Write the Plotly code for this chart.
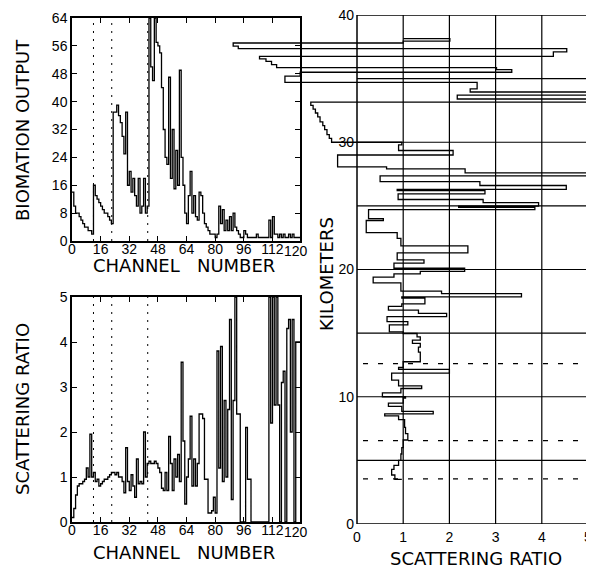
import plotly.graph_objects as go

# The page shows the figure with an 8 px body margin, so it starts at (8, 8)
OFF = 8
W, H = 594 - OFF, 568 - OFF
FONT = "DejaVu Sans"
TICKFONT = "Liberation Sans"

# ---------------- data ----------------
channels = list(range(128))
channel_ticks = [0, 16, 32, 48, 64, 80, 96, 112]

biomation_output = [
    14, 10, 8, 8, 7, 6, 5, 4, 4, 3, 3, 2,
    16, 13, 12, 11, 10, 9, 8, 8, 7, 6, 5,
    37, 37, 39, 36, 34, 30, 25, 37, 16, 20, 14, 18, 13, 10, 18, 8, 10, 18, 8, 10,
    64, 50, 46, 64, 57, 56, 54, 44, 32, 24, 22, 47, 18, 32, 15, 26, 16, 49, 24, 16,
    8, 5, 13, 20, 8, 13, 7, 6, 14, 13, 8, 5, 4, 3, 2, 2, 2, 1, 2,
    10, 5, 9, 3, 6, 3, 7, 3, 8, 4, 3, 2, 1, 1, 3, 2,
    1, 1, 1, 1, 1, 2, 1, 1, 1, 1, 1, 1,
    6, 1, 7, 2, 2, 1, 2, 1, 2, 1, 1, 2, 1, 2, 1, 1, 1, 1,
]

scattering_by_channel = [
    0.1, 0.3, 0.6, 0.8, 0.85, 0.85, 0.9, 0.95, 1.2, 1.0,
    1.95, 1.0, 1.1, 0.9, 0.95, 0.8, 0.85, 0.9, 0.95, 0.95,
    1.0, 1.05, 1.1, 1.1, 1.05, 1.1, 1.0, 1.0, 0.9, 0.65,
    1.65, 0.9, 0.7, 1.05, 0.8, 0.55, 1.4, 0.85, 0.9, 0.85,
    2.0, 1.0, 1.3, 1.35, 1.3, 1.3, 1.35, 1.3, 1.2, 1.1,
    0.75, 0.7, 1.1, 0.7, 1.9, 1.3, 0.7, 1.4, 1.0, 1.5,
    0.9, 3.55, 1.8, 0.4, 1.0, 1.4, 2.35, 0.8, 1.4, 0.8,
    1.3, 2.4, 2.4, 2.3, 0.95, 0.95, 0.2, 0.2, 0.25, 0.55,
    0.2, 3.8, 1.2, 3.9, 0.9, 2.7, 1.0, 2.5, 4.5, 0.5,
    2.7, 5.0, 2.4, 2.4, 0, 0, 0, 2.1, 0.95, 0.95,
    0, 0, 0, 0, 0, 0, 0, 0, 0, 0,
    5.0, 2.2, 5.0, 2.6, 5.0, 2.6, 0, 3.1, 3.35, 0,
    4.3, 4.5, 2.0, 4.5, 0, 4.0, 4.0, 4.0,
]

marker_channels = [12, 22.2, 42.3]          # dotted vertical lines

# altitude profile: level held from prof_km[i] up to prof_km[i+1]
prof_km = [
    3.5, 3.5, 3.85, 4.3, 4.6, 5.0, 5.5, 6.0, 6.6, 7.1, 7.6, 8.2, 8.5, 8.65, 8.85,
    9.25, 9.5, 9.9, 10.0, 10.3, 10.65, 10.85, 11.3, 11.85, 12.15, 12.3, 12.75,
    13.5, 13.9, 14.2, 14.45, 14.7, 14.97, 15.1, 15.65, 15.9, 16.3, 16.55, 16.8,
    17.1, 17.3, 17.75, 17.85, 18.1, 18.3, 18.95, 19.4, 19.65, 19.85, 20.1, 20.5,
    20.75, 21.3, 21.85, 22.45, 22.9, 23.85, 24.0, 24.7, 24.88, 24.98, 25.25,
    25.5, 25.95, 26.2, 26.3, 26.6, 26.9, 27.35, 27.6, 27.9, 28.07, 29.0, 29.35,
    29.8, 30.0, 30.3, 30.6, 31.0, 31.3, 31.6, 32.0, 32.3, 32.6, 32.9, 33.15,
    33.4, 33.7, 33.95, 34.2, 34.7, 35.2, 35.5, 35.7, 35.87, 36.1, 36.35, 36.55,
    36.75, 37.1, 37.35, 37.55, 37.8, 37.95, 38.15,
]
prof_ratio = [
    0.97, 0.82, 0.75, 0.8, 0.9, 0.95, 0.97, 1.0, 1.1, 1.05, 1.03, 0.9, 0.6, 1.65, 0.97,
    0.68, 1.0, 1.05, 0.55, 0.95, 1.4, 0.9, 0.75, 2.0, 0.9, 1.0, 1.37,
    1.33, 1.37, 1.2, 1.37, 1.3, 1.0, 0.7, 1.1, 0.65, 1.94, 1.33, 0.68,
    0.97, 1.47, 0.97, 3.56, 1.83, 0.95, 0.35, 0.8, 1.37, 2.33, 0.8, 1.45,
    0.87, 2.4, 0.95, 0.87, 0.2, 0.57, 0.25, 3.85, 2.2, 3.93, 2.73,
    0.89, 2.77, 0.87, 4.53, 2.66, 0.5, 6.0, 2.34, 0.64, -0.42, 2.08, 0.9,
    0.97, -0.55, -0.6, -0.65, -0.7, -0.74, -0.8, -0.85, -0.9, -0.95, -1.0, 6.0,
    2.17, 6.0, 2.45, 2.6, -1.56, -1.23, 3.35, 3.02, -1.74, -1.85, -1.97, -2.11,
    4.25, 4.54, -2.57, -2.68, 1.0, 2.01, 1.0,
]
km_grid = [5, 10, 15, 20, 25, 30, 35]
ratio_grid = [1, 2, 3, 4]
km_dotted = [3.55, 6.55, 12.6]
km_ticks = [0, 10, 20, 30, 40]
ratio_ticks = [0, 1, 2, 3, 4, 5]


def fx(px):
    """picture x pixel -> paper fraction"""
    return (px - OFF) / W


def fy(py):
    """picture y pixel -> paper fraction"""
    return 1 - (py - OFF) / H


fig = go.Figure()
line_style = dict(color="black", width=1.3)

fig.add_trace(go.Scatter(x=channels + [128], y=biomation_output + [biomation_output[-1]],
                         mode="lines", line=dict(shape="hv", **line_style),
                         xaxis="x", yaxis="y", showlegend=False))
fig.add_trace(go.Scatter(x=channels + [128], y=scattering_by_channel + [scattering_by_channel[-1]],
                         mode="lines", line=dict(shape="hv", **line_style),
                         xaxis="x2", yaxis="y2", showlegend=False))
fig.add_trace(go.Scatter(x=prof_ratio, y=prof_km, mode="lines",
                         line=dict(shape="vh", **line_style),
                         xaxis="x3", yaxis="y3", showlegend=False))

tickfont = dict(family=TICKFONT, size=14, color="black")
framed = dict(showline=True, linecolor="black", linewidth=1.5, mirror="ticks",
              ticks="inside", ticklen=5, tickwidth=1.2, tickcolor="black",
              showgrid=False, zeroline=False, tickfont=tickfont, automargin=False,
              ticklabeloverflow="allow")
bare = dict(showline=False, showgrid=False, zeroline=False, ticks="",
            tickfont=tickfont, automargin=False, ticklabeloverflow="allow",
            ticklabelstandoff=3)

ch_max = (300 - 72) / 1.79
xdom = [fx(72), fx(300)]
r_lo = (225 - 357) / 46.2
r_hi = (594 - 357) / 46.2

fig.update_layout(
    width=W, height=H, margin=dict(l=0, r=0, t=0, b=0, pad=0), autosize=False,
    paper_bgcolor="white", plot_bgcolor="rgba(0,0,0,0)",
    xaxis=dict(domain=xdom, range=[0, ch_max], tickvals=channel_ticks, anchor="y",
               ticklabelstandoff=-6, **framed),
    yaxis=dict(domain=[fy(241), fy(18)], range=[0, 64], tickvals=list(range(0, 65, 8)),
               anchor="x", **framed),
    xaxis2=dict(domain=xdom, range=[0, ch_max], tickvals=channel_ticks, anchor="y2",
                ticklabelstandoff=-6, **framed),
    yaxis2=dict(domain=[fy(522), fy(297)], range=[0, 5], tickvals=[0, 1, 2, 3, 4, 5],
                anchor="x2", **framed),
    xaxis3=dict(domain=[fx(225), 1.0], range=[r_lo, r_hi], tickvals=ratio_ticks,
                anchor="y3", **bare),
    yaxis3=dict(domain=[fy(524), fy(15)], range=[0, 40], tickvals=km_ticks,
                anchor="free", position=fx(357), **bare),
)

shapes = []
# dotted channel markers
for c in marker_channels:
    for xr, yr, top in (("x", "y", 64), ("x2", "y2", 5)):
        shapes.append(dict(type="line", xref=xr, yref=yr, x0=c, x1=c, y0=0, y1=top,
                           line=dict(color="black", width=1, dash="2px,6px")))
# right panel frame and grid
shapes.append(dict(type="rect", xref="x3", yref="y3", x0=0, x1=5, y0=0, y1=40,
                   line=dict(color="black", width=1.5)))
for r in ratio_grid:
    shapes.append(dict(type="line", xref="x3", yref="y3", x0=r, x1=r, y0=0, y1=40,
                       line=dict(color="black", width=1.2)))
for k in km_grid:
    shapes.append(dict(type="line", xref="x3", yref="y3", x0=0, x1=5, y0=k, y1=k,
                       line=dict(color="black", width=1.2)))
for k in km_dotted:
    shapes.append(dict(type="line", xref="x3", yref="y3", x0=0.13, x1=5, y0=k, y1=k,
                       line=dict(color="black", width=1.2, dash="5px,10px")))
fig.update_layout(shapes=shapes)

tfont = dict(family=FONT, size=18, color="black")
ann = [
    dict(text="BIOMATION OUTPUT", x=fx(22), y=fy(130), textangle=-90, font=tfont),
    dict(text="CHANNEL   NUMBER", x=fx(184), y=fy(266), font=tfont),
    dict(text="SCATTERING RATIO", x=fx(22), y=fy(409), textangle=-90, font=tfont),
    dict(text="CHANNEL   NUMBER", x=fx(184), y=fy(552), font=tfont),
    dict(text="KILOMETERS", x=fx(326), y=fy(274), textangle=-90, font=tfont),
    dict(text="SCATTERING RATIO", x=fx(476), y=fy(558), font=tfont),
]
annotations = [dict(xref="paper", yref="paper", showarrow=False, xanchor="center",
                    yanchor="middle", **a) for a in ann]
annotations.append(dict(text="120", xref="x", yref="paper", x=125.3, y=fy(251),
                        showarrow=False, font=tickfont, yanchor="middle"))
annotations.append(dict(text="120", xref="x2", yref="paper", x=125.3, y=fy(532),
                        showarrow=False, font=tickfont, yanchor="middle"))
fig.update_layout(annotations=annotations)

fig.write_html("out.html")
